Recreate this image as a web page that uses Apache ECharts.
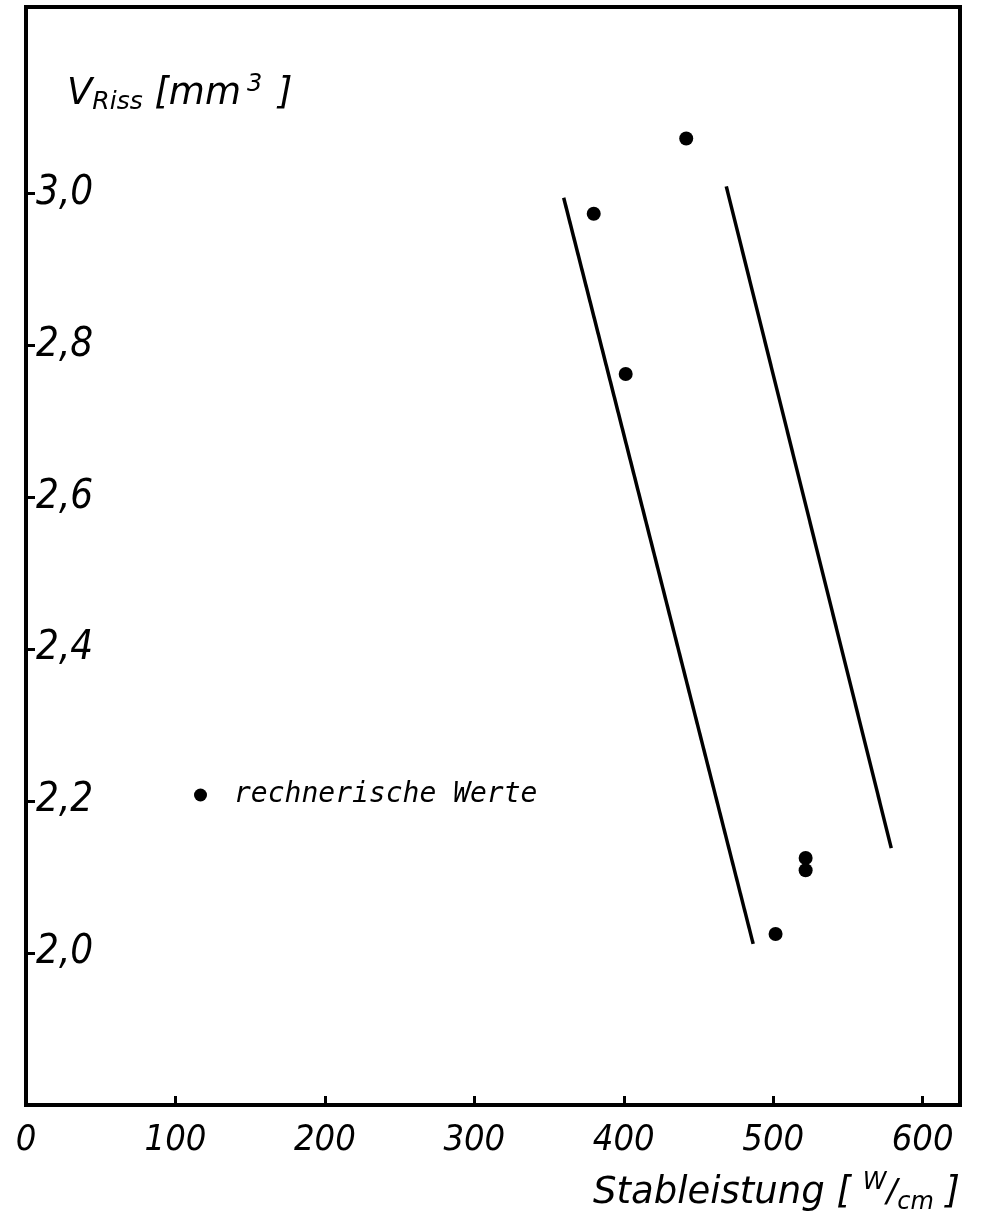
<!DOCTYPE html>
<html><head><meta charset="utf-8">
<script src="https://cdn.jsdelivr.net/npm/echarts@6/dist/echarts.min.js"></script>
<style>html,body{margin:0;padding:0;background:#fff}#c{width:981px;height:1216px}</style>
</head><body><div id="c"></div>
<script>
// computed values (Stableistung W/cm, V_Riss mm^3)
const pointX = [441.8, 379.9, 401.3, 501.6, 521.7, 521.7];
const pointY = [3.072, 2.973, 2.762, 2.025, 2.125, 2.109];
// two boundary lines
const line1X = [359.8, 486.6];
const line1Y = [2.994, 2.012];
const line2X = [468.6, 579.0];
const line2Y = [3.009, 2.138];
// tick labels
const xTicks = [0, 100, 200, 300, 400, 500, 600];
const yTicks = [2.0, 2.2, 2.4, 2.6, 2.8, 3.0];
const seriesName = 'rechnerische Werte';

const pts = pointX.map((x, i) => [x, pointY[i]]);
const l1 = line1X.map((x, i) => [x, line1Y[i]]);
const l2 = line2X.map((x, i) => [x, line2Y[i]]);

const tickFont = 'DejaVu Sans Condensed, DejaVu Sans, sans-serif';
const chart = echarts.init(document.getElementById('c'), null, {renderer: 'canvas'});
chart.setOption({
  animation: false,
  backgroundColor: '#fff',
  grid: {left: 26, right: 21, top: 7, bottom: 111, show: true, borderColor: '#000', borderWidth: 4,
         containLabel: false, outerBoundsMode: 'none'},
  legend: {
    data: [seriesName], left: 189, top: 776, icon: 'circle', itemWidth: 13, itemHeight: 13,
    itemStyle: {color: '#000', opacity: 1},
    textStyle: {color: '#000', fontSize: 28, fontStyle: 'italic', fontFamily: 'DejaVu Sans Mono', padding: [0, 0, 0, 22]}
  },
  xAxis: {
    type: 'value', min: 0, max: 625, interval: 100,
    name: '{t|Stableistung [ }{sup|W}{sl|/}{sub|cm}{t| ]}',
    nameLocation: 'end', nameGap: 0, nameMoveOverlap: false,
    nameTextStyle: {align: 'right', verticalAlign: 'top', padding: [66, 0, 0, 0],
      rich: {
        t: {fontSize: 37, fontStyle: 'italic', fontFamily: 'DejaVu Sans', color: '#000', lineHeight: 44},
        sup: {fontSize: 24, fontStyle: 'italic', fontFamily: 'DejaVu Sans', color: '#000', verticalAlign: 'top', lineHeight: 26},
        sl: {fontSize: 32, fontStyle: 'italic', fontFamily: 'DejaVu Sans', color: '#000', lineHeight: 38},
        sub: {fontSize: 24, fontStyle: 'italic', fontFamily: 'DejaVu Sans', color: '#000', verticalAlign: 'bottom', lineHeight: 26}
      }},
    splitLine: {show: false},
    axisLine: {lineStyle: {color: '#000', width: 4}},
    axisTick: {inside: true, length: 9, lineStyle: {color: '#000', width: 3}, customValues: xTicks.slice(1)},
    axisLabel: {customValues: xTicks, color: '#000', fontSize: 36, fontStyle: 'italic', fontFamily: tickFont, margin: 18}
  },
  yAxis: {
    type: 'value', min: 1.8, max: 3.245, interval: 0.2,
    name: '{v|V}{sub|Riss}{n| [mm}{sup|3}{n| ]}',
    nameLocation: 'end', nameGap: -66, nameMoveOverlap: false,
    nameTextStyle: {align: 'left', verticalAlign: 'top', padding: [0, 0, 0, 41],
      rich: {
        v: {fontSize: 37, fontStyle: 'italic', fontFamily: 'DejaVu Sans', color: '#000', lineHeight: 42},
        sub: {fontSize: 25, fontStyle: 'italic', fontFamily: 'DejaVu Sans', color: '#000', verticalAlign: 'bottom', lineHeight: 28},
        n: {fontSize: 37, fontStyle: 'italic', fontFamily: 'DejaVu Sans', color: '#000', lineHeight: 42},
        sup: {fontSize: 24, fontStyle: 'italic', fontFamily: 'DejaVu Sans', color: '#000', verticalAlign: 'top', lineHeight: 24, padding: [0, 4, 0, 6]}
      }},
    splitLine: {show: false},
    axisLine: {lineStyle: {color: '#000', width: 4}},
    axisTick: {inside: true, length: 9, lineStyle: {color: '#000', width: 3}, customValues: yTicks},
    axisLabel: {inside: true, customValues: yTicks, margin: 10, color: '#000', fontSize: 40, fontStyle: 'italic', fontFamily: tickFont,
      formatter: v => v.toFixed(1).replace('.', ',')}
  },
  series: [
    {name: 'line1', type: 'line', data: l1, symbol: 'none', silent: true, lineStyle: {color: '#000', width: 3.5}},
    {name: 'line2', type: 'line', data: l2, symbol: 'none', silent: true, lineStyle: {color: '#000', width: 3.5}},
    {name: seriesName, type: 'scatter', data: pts, symbol: 'circle', symbolSize: 14, itemStyle: {color: '#000', opacity: 1}}
  ]
});
</script></body></html>
